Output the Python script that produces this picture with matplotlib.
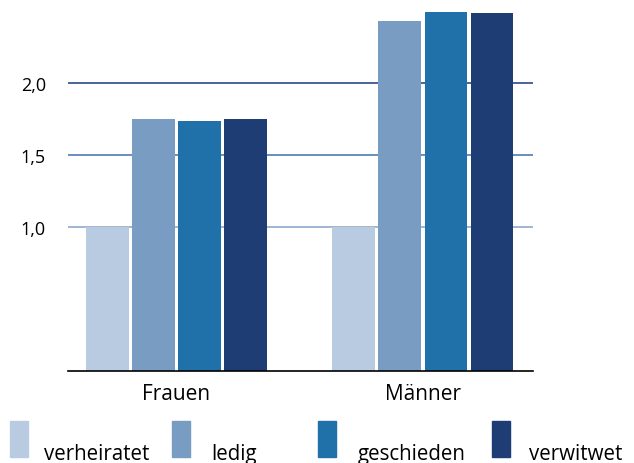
import numpy as np
import matplotlib.pyplot as plt
from matplotlib.patches import Rectangle

# data
groups = ["Frauen", "Männer"]
series = ["verheiratet", "ledig", "geschieden", "verwitwet"]
values = {
    "verheiratet": [1.0, 1.0],
    "ledig": [1.75, 2.43],
    "geschieden": [1.735, 2.49],
    "verwitwet": [1.75, 2.485],
}
colors = ["#b9cbe1", "#799cc2", "#2070a9", "#1e3d74"]
yticks = [1.0, 1.5, 2.0]
ytick_labels = ["1,0", "1,5", "2,0"]
grid_colors = ["#8fa9cc", "#4e7bb0", "#2a4c86"]

plt.rcParams['font.family'] = ['Open Sans', 'DejaVu Sans']

fig = plt.figure(figsize=(6.34, 4.64), dpi=100)
ax = fig.add_axes([68/634, 92/464, 465/634, 372/464])

x = np.arange(len(groups))
w = 0.171
step = 0.187
for i, s in enumerate(series):
    ax.bar(x + (i - 1.5) * step, values[s], width=w, color=colors[i], zorder=3)

ax.hlines(yticks, -0.441, 1.449, colors=grid_colors, linewidth=1.2, zorder=1)

ax.set_xlim(-0.441, 1.449)
ax.set_ylim(0, 2.583)
ax.set_xticks(x, groups, fontsize=15)
ax.set_yticks(yticks, ytick_labels, fontsize=13)
ax.tick_params(axis='y', length=0, pad=16)
ax.tick_params(axis='x', length=0, pad=9)
for sp in ['top', 'right', 'left']:
    ax.spines[sp].set_visible(False)
ax.spines['bottom'].set_color('black')
ax.spines['bottom'].set_linewidth(1.2)
ax.spines['bottom'].set_zorder(4)

# legend, drawn by hand to keep the uneven spacing
patch_x = [10, 172, 318, 492]
text_x = [44, 211, 358, 529]
for i, s in enumerate(series):
    fig.patches.append(Rectangle((patch_x[i]/634, 6/464), 18/634, 36/464,
                                 transform=fig.transFigure, color=colors[i]))
    fig.text(text_x[i]/634, 4/464, s, fontsize=14.8, va='baseline', ha='left')

fig.savefig("out.png", dpi=100)
